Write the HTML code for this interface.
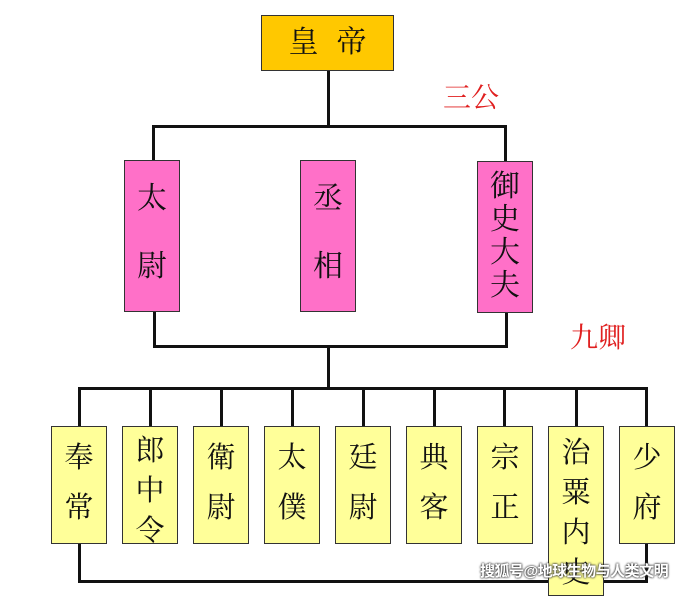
<!DOCTYPE html>
<html><head><meta charset="utf-8"><style>
body{margin:0;width:689px;height:586px;background:#fff;position:relative;overflow:hidden;font-family:"Liberation Serif","Noto Serif CJK SC",serif}
.b{position:absolute;border:1.5px solid #333;box-sizing:border-box;text-align:center;color:#111}
.l{position:absolute;background:#111}
.p{background:#FF70C8;width:56px;height:152px;font-size:30px}
.y{background:#FFFF99;width:56px;height:118px;top:426px;font-size:29px}
.r{position:absolute;color:#e02020;font-size:28px}
</style></head><body>
<div class="l" style="left:327px;top:70px;width:3px;height:58px"></div>
<div class="l" style="left:152px;top:125px;width:355px;height:3px"></div>
<div class="l" style="left:152px;top:125px;width:3px;height:36px"></div>
<div class="l" style="left:504px;top:125px;width:3px;height:36px"></div>
<div class="l" style="left:153px;top:312px;width:3px;height:35px"></div>
<div class="l" style="left:505px;top:312px;width:3px;height:35px"></div>
<div class="l" style="left:153px;top:345px;width:355px;height:3px"></div>
<div class="l" style="left:327px;top:345px;width:3px;height:44px"></div>
<div class="l" style="left:78px;top:387px;width:570px;height:3px"></div>
<div class="l" style="left:78px;top:387px;width:3px;height:196px"></div>
<div class="l" style="left:78px;top:580px;width:570px;height:3px"></div>
<div class="l" style="left:149px;top:387px;width:3px;height:40px"></div>
<div class="l" style="left:220px;top:387px;width:3px;height:40px"></div>
<div class="l" style="left:291px;top:387px;width:3px;height:40px"></div>
<div class="l" style="left:362px;top:387px;width:3px;height:40px"></div>
<div class="l" style="left:433px;top:387px;width:3px;height:40px"></div>
<div class="l" style="left:503px;top:387px;width:3px;height:40px"></div>
<div class="l" style="left:575px;top:387px;width:3px;height:40px"></div>
<div class="l" style="left:645px;top:387px;width:3px;height:196px"></div>
<div class="b" style="left:261px;top:15px;width:133px;height:56px;background:#FFC800;font-size:30px;line-height:54px;letter-spacing:18px;padding-left:18px">皇帝</div>
<div class="r" style="left:443px;top:76px">三公</div>
<div class="r" style="left:570px;top:316px">九卿</div>
<div class="b p" style="left:124px;top:160px;line-height:34px;padding-top:21px">太<br><br>尉</div>
<div class="b p" style="left:300px;top:160px;line-height:34px;padding-top:21px">丞<br><br>相</div>
<div class="b p" style="left:477px;top:161px;line-height:33px;padding-top:8px">御<br>史<br>大<br>夫</div>
<div class="b y" style="left:51px;line-height:50px;padding-top:6px">奉<br>常</div>
<div class="b y" style="left:122px;line-height:40px;padding-top:4px">郎<br>中<br>令</div>
<div class="b y" style="left:193px;line-height:50px;padding-top:6px">衛<br>尉</div>
<div class="b y" style="left:264px;line-height:50px;padding-top:6px">太<br>僕</div>
<div class="b y" style="left:335px;line-height:50px;padding-top:6px">廷<br>尉</div>
<div class="b y" style="left:406px;line-height:50px;padding-top:6px">典<br>客</div>
<div class="b y" style="left:477px;line-height:50px;padding-top:6px">宗<br>正</div>
<div class="b y" style="left:548px;height:170px;line-height:40px;padding-top:6px">治<br>粟<br>内<br>史</div>
<div class="b y" style="left:619px;line-height:50px;padding-top:6px">少<br>府</div>
<div style="position:absolute;left:480px;top:560px;white-space:nowrap;letter-spacing:-0.5px;font-family:'Liberation Sans','Noto Sans CJK SC',sans-serif;font-size:15px;font-weight:bold;color:#fff;text-shadow:0 0 2px #333,0 0 2px #333">搜狐号@地球生物与人类文明</div>
</body></html>
